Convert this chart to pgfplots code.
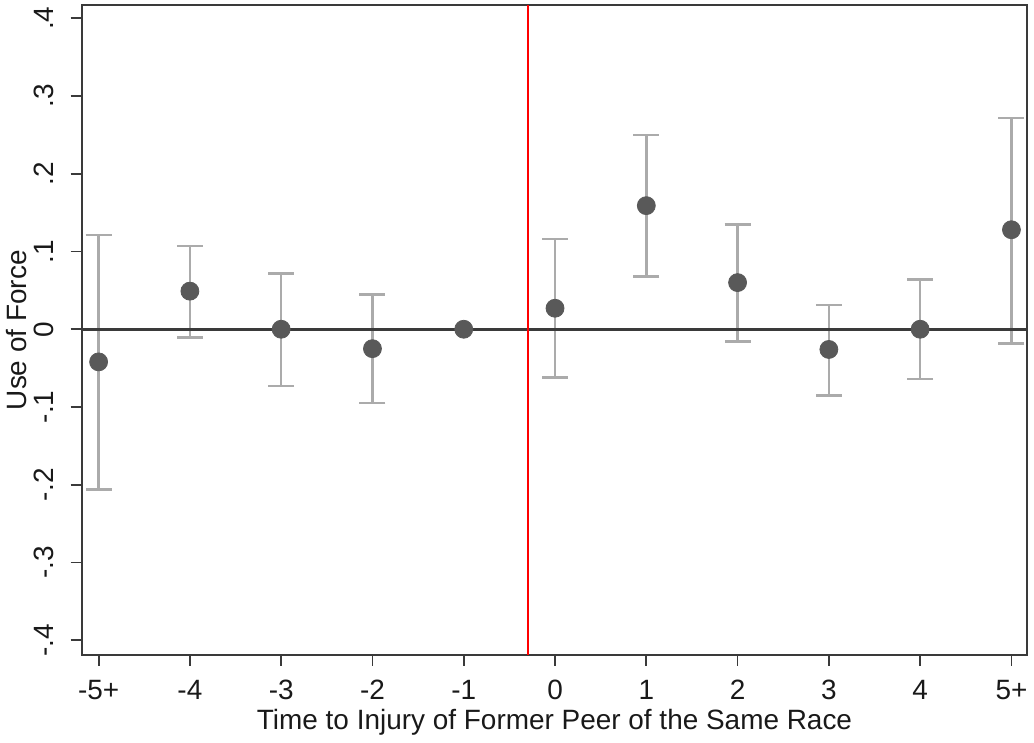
\documentclass[border=0pt]{standalone}
\usepackage{fontspec}
\setmainfont{Liberation Sans}
\usepackage{pgfplots}
\usepackage{pgfplotstable}
\pgfplotsset{compat=1.18}

\definecolor{markgray}{HTML}{595959}
\definecolor{cigray}{HTML}{ABABAB}
\definecolor{linegray}{HTML}{3A3A3A}

% point estimates, categories -5+ ... 5+ at 0 ... 10
\pgfplotstableread{
x y
0 -0.042
1 0.049
2 0.000
3 -0.025
4 0.000
5 0.027
6 0.159
7 0.060
8 -0.026
9 0.000
10 0.128
}\pointtable

% confidence intervals (reference period -1 has none)
\pgfplotstableread{
x y hi lo
0 -0.042 0.121 -0.206
1 0.049 0.107 -0.011
2 0.000 0.072 -0.073
3 -0.025 0.045 -0.095
5 0.027 0.116 -0.062
6 0.159 0.250 0.068
7 0.060 0.135 -0.016
8 -0.026 0.031 -0.085
9 0.000 0.064 -0.064
10 0.128 0.272 -0.018
}\citable

\begin{document}
\begin{tikzpicture}
\begin{axis}[
    scale only axis,
    width=474pt, height=325.5pt,
    xmin=-0.186, xmax=10.175,
    ymin=-0.419, ymax=0.4165,
    xtick={0,...,10},
    xticklabels={-5+,-4,-3,-2,-1,0,1,2,3,4,5+},
    ytick={-0.4,-0.3,-0.2,-0.1,0,0.1,0.2,0.3,0.4},
    yticklabels={-.4,-.3,-.2,-.1,0,.1,.2,.3,.4},
    tick align=outside,
    major tick length=5.5pt,
    xtick pos=bottom, ytick pos=left,
    axis line style={linegray, line width=1pt},
    tick style={linegray, line width=0.9pt},
    every tick label/.append style={font=\fontsize{14}{16}\selectfont, text=black!90},
    yticklabel style={rotate=90, anchor=south},
    yticklabel shift=5pt,
    xticklabel style={yshift=-3.5pt},
    xlabel={Time to Injury of Former Peer of the Same Race},
    ylabel={Use of Force},
    label style={font=\fontsize{14}{16}\selectfont, text=black!90},
    xlabel style={yshift=2pt},
    ylabel style={yshift=-3.5pt},
    /pgf/number format/assume math mode=true,
]
\addplot[only marks, mark=*, mark size=4.5pt, mark options={fill=markgray, draw=markgray}]
    table[x=x, y=y] {\pointtable};
\addplot[draw=none, mark=none,
    error bars/.cd, y dir=both, y explicit,
    error bar style={draw=cigray, line width=1.3pt},
    error mark options={draw=cigray, line width=1.3pt, mark size=6.5pt, rotate=90}]
    table[x=x, y=y, y error plus expr=\thisrow{hi}-\thisrow{y},
          y error minus expr=\thisrow{y}-\thisrow{lo}] {\citable};
\addplot[linegray, line width=1.4pt] coordinates {(-0.186,0) (10.175,0)};
\addplot[red, line width=1pt] coordinates {(4.7,-0.419) (4.7,0.4165)};
\end{axis}
\end{tikzpicture}
\end{document}
